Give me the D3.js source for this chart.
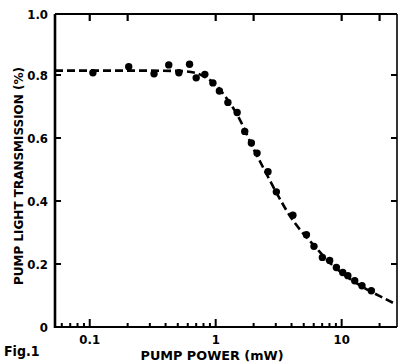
<!DOCTYPE html>
<html><head><meta charset="utf-8">
<script src="https://cdn.jsdelivr.net/npm/d3@7"></script>
<style>
html,body{margin:0;padding:0;background:#fff;}
text{font-family:"DejaVu Sans",sans-serif;font-weight:bold;font-stretch:condensed;fill:#000;}
</style></head>
<body>
<svg id="c" width="399" height="363"></svg>
<script>
// measured points: pump power (mW) and transmission
const powerMW = [0.106,0.204,0.324,0.424,0.51,0.62,0.70,0.82,0.95,1.07,1.25,1.48,1.70,1.92,2.13,2.60,3.03,4.10,5.25,6.03,7.03,8.03,9.08,10.2,11.2,12.7,14.5,17.2];
const transmission = [0.807,0.826,0.804,0.832,0.807,0.834,0.791,0.802,0.775,0.749,0.713,0.681,0.621,0.584,0.552,0.493,0.429,0.355,0.293,0.256,0.221,0.211,0.189,0.173,0.163,0.147,0.131,0.115];
// fitted (dashed) curve
const fitPower = [0.053,0.2,0.5,0.7,0.85,1.0,1.2,1.5,2.0,2.5,3.0,4.0,5.0,6.0,8.0,10,13,17,22,27];
const fitTrans = [0.814,0.814,0.813,0.806,0.79,0.77,0.73,0.67,0.565,0.49,0.43,0.345,0.295,0.26,0.205,0.172,0.14,0.113,0.09,0.072];
const yTicks = [0,0.2,0.4,0.6,0.8,1.0];
const yTickLabels = ["0","0.2","0.4","0.6","0.8","1.0"];
const xMajor = [0.1,1,10];
const xMajorLabels = ["0.1","1","10"];
const xMinor = [0.06,0.07,0.08,0.09,0.2,0.3,0.4,0.5,0.6,0.7,0.8,0.9,2,3,4,5,6,7,8,9,20];
const xTopTicks = [0.1,0.2,1,2,10,20];

const svg = d3.select("#c");
const L=55,R=397,T=14,B=327;
const x = d3.scaleLog().domain([0.053,27.5]).range([L,R]);
const y = d3.scaleLinear().domain([0,1]).range([B,12]);

// frame
svg.append("line").attr("x1",L).attr("x2",L).attr("y1",T).attr("y2",B+1).attr("stroke","#000").attr("stroke-width",2.6);
svg.append("line").attr("x1",L).attr("x2",R).attr("y1",B).attr("y2",B).attr("stroke","#000").attr("stroke-width",2.2);
svg.append("line").attr("x1",L).attr("x2",R).attr("y1",T).attr("y2",T).attr("stroke","#000").attr("stroke-width",2.2);
svg.append("line").attr("x1",R).attr("x2",R).attr("y1",T).attr("y2",B).attr("stroke","#000").attr("stroke-width",1.6);

// left/right axis ticks (inward) + labels
const yIn = yTicks.filter(v=>v>0 && v<1);
svg.selectAll(".yl").data(yIn).enter().append("line")
  .attr("x1",L).attr("x2",L+6).attr("y1",d=>y(d)).attr("y2",d=>y(d)).attr("stroke","#000").attr("stroke-width",2);
svg.selectAll(".yr").data(yIn).enter().append("line")
  .attr("x1",R).attr("x2",R-6).attr("y1",d=>y(d)).attr("y2",d=>y(d)).attr("stroke","#000").attr("stroke-width",2);
svg.selectAll(".ylab").data(yTicks).enter().append("text")
  .attr("x",48).attr("y",(d,i)=> i===5 ? T+5 : y(d)+5)
  .attr("text-anchor","end").attr("font-size",13)
  .text((d,i)=>yTickLabels[i]);

// bottom ticks (inward, up), top ticks (down)
svg.selectAll(".xm").data(xMajor).enter().append("line")
  .attr("x1",d=>x(d)).attr("x2",d=>x(d)).attr("y1",B).attr("y2",B-8).attr("stroke","#000").attr("stroke-width",2);
svg.selectAll(".xn").data(xMinor).enter().append("line")
  .attr("x1",d=>x(d)).attr("x2",d=>x(d)).attr("y1",B).attr("y2",B-4).attr("stroke","#000").attr("stroke-width",2);
svg.selectAll(".xt").data(xTopTicks).enter().append("line")
  .attr("x1",d=>x(d)).attr("x2",d=>x(d)).attr("y1",T).attr("y2",T+7).attr("stroke","#000").attr("stroke-width",2.2);
svg.selectAll(".xlab").data(xMajor).enter().append("text")
  .attr("x",d=>x(d)).attr("y",344).attr("text-anchor","middle").attr("font-size",13)
  .text((d,i)=>xMajorLabels[i]);

// fitted dashed curve
const line = d3.line().x(d=>x(d[0])).y(d=>y(d[1])).curve(d3.curveMonotoneX);
svg.append("path").datum(fitPower.map((p,i)=>[p,fitTrans[i]]))
  .attr("d",line).attr("fill","none").attr("stroke","#000").attr("stroke-width",2.6)
  .attr("stroke-dasharray","8,4");

// data points
svg.selectAll(".pt").data(powerMW).enter().append("circle")
  .attr("cx",d=>x(d)).attr("cy",(d,i)=>y(transmission[i])).attr("r",3.7).attr("fill","#000");

// titles
svg.append("text").attr("transform","translate(23,176) rotate(-90)")
  .attr("text-anchor","middle").attr("font-size",13)
  .attr("textLength",218).attr("lengthAdjust","spacingAndGlyphs")
  .text("PUMP LIGHT TRANSMISSION  (%)");
svg.append("text").attr("x",212).attr("y",360).attr("text-anchor","middle").attr("font-size",13)
  .attr("textLength",143).attr("lengthAdjust","spacingAndGlyphs")
  .text("PUMP POWER (mW)");
svg.append("text").attr("x",4).attr("y",356).attr("font-size",14)
  .text("Fig.1");
</script>
</body></html>
